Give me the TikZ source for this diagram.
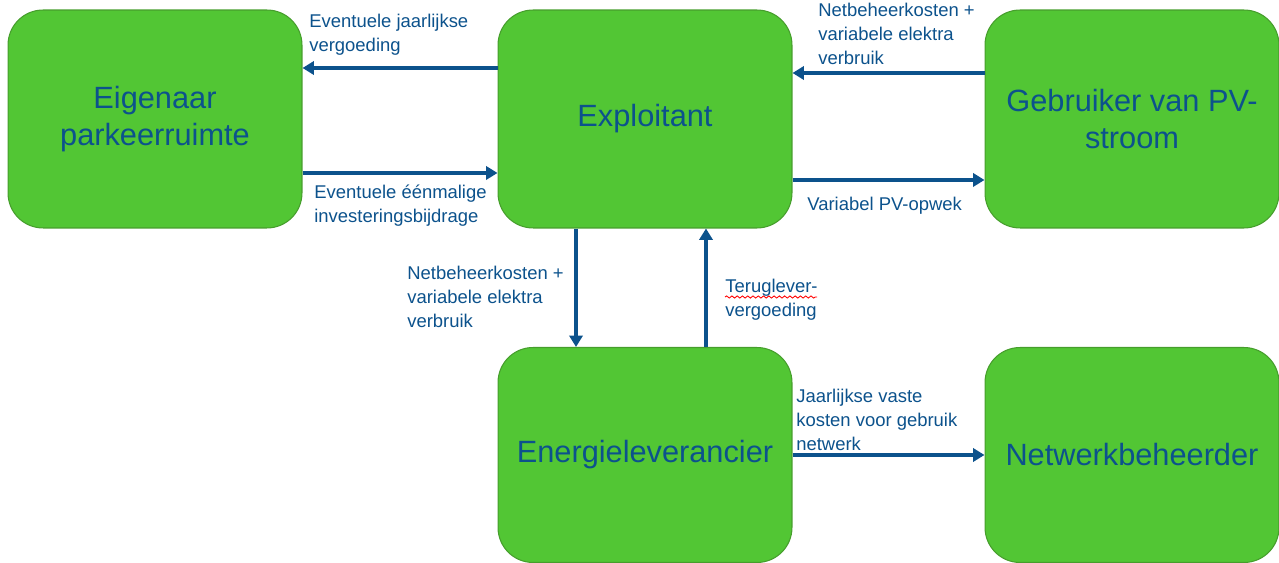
\documentclass[tikz,border=0pt]{standalone}
\usepackage{fontspec}
\setmainfont{Liberation Sans}
\usetikzlibrary{arrows.meta,decorations.pathmorphing}
\definecolor{boxgreen}{RGB}{82,198,52}
\definecolor{boxedge}{RGB}{70,158,44}
\definecolor{flowblue}{RGB}{12,82,140}
\tikzset{
	actor/.style={draw=boxedge, line width=0.6pt, fill=boxgreen, rounded corners=0.7cm,
		minimum width=5.88cm, minimum height=4.36cm, align=center, inner sep=0pt,
		text=flowblue, font=\fontsize{17.5}{21}\selectfont},
	flow/.style={draw=flowblue, line width=2.2pt, -{Triangle[length=6.5pt,width=7.5pt]}},
	note/.style={anchor=north west, align=left, inner sep=0pt, text=flowblue,
		font=\fontsize{10.5}{13.6}\selectfont},
	spell/.style={draw=red, line width=0.5pt, decorate,
		decoration={snake, amplitude=0.6pt, segment length=3pt}}
}
\begin{document}
\begin{tikzpicture}[x=0.02cm, y=-0.02cm]
	\useasboundingbox (0,0) rectangle (1279,563);

	\node[actor] (eig) at ( 155, 119) {Eigenaar\\parkeerruimte};
	\node[actor] (expl) at ( 645, 119) {Exploitant};
	\node[actor] (geb) at (1132, 119) {Gebruiker van PV-\\stroom};
	\node[actor, minimum height=4.3cm] (ener) at ( 645, 455) {Energieleverancier};
	\node[actor, minimum height=4.3cm] (netw) at (1132, 455) {Netwerkbeheerder};

	\node[note] (t1) at (309, 14) {Eventuele jaarlijkse\\vergoeding};
	\node[note] (t2) at (314, 185) {Eventuele éénmalige\\investeringsbijdrage};
	\node[note] (t3) at (818, 3) {Netbeheerkosten +\\variabele elektra\\verbruik};
	\node[note] (t4) at (807, 197) {Variabel PV-opwek};
	\node[note] (t5) at (407, 266) {Netbeheerkosten +\\variabele elektra\\verbruik};
	\node[note] (t6) at (725, 279) {Teruglever-\\vergoeding};
	\node[note] (t7) at (796, 389) {Jaarlijkse vaste\\kosten voor gebruik\\netwerk};
	\draw[spell] (725, 297) -- (817, 297);

	\draw[flow] ([yshift=1.02cm]expl.west) to ([yshift=1.02cm]eig.east);
	\draw[flow] ([yshift=-1.08cm]eig.east) to ([yshift=-1.08cm]expl.west);
	\draw[flow] ([yshift=0.92cm]geb.west) to ([yshift=0.92cm]expl.east);
	\draw[flow] ([yshift=-1.22cm]expl.east) to ([yshift=-1.22cm]geb.west);
	\draw[flow] ([xshift=-1.38cm]expl.south) to ([xshift=-1.38cm]ener.north);
	\draw[flow] ([xshift=1.22cm]ener.north) to ([xshift=1.22cm]expl.south);
	\draw[flow] (ener.east) to (netw.west);

\end{tikzpicture}
\end{document}
